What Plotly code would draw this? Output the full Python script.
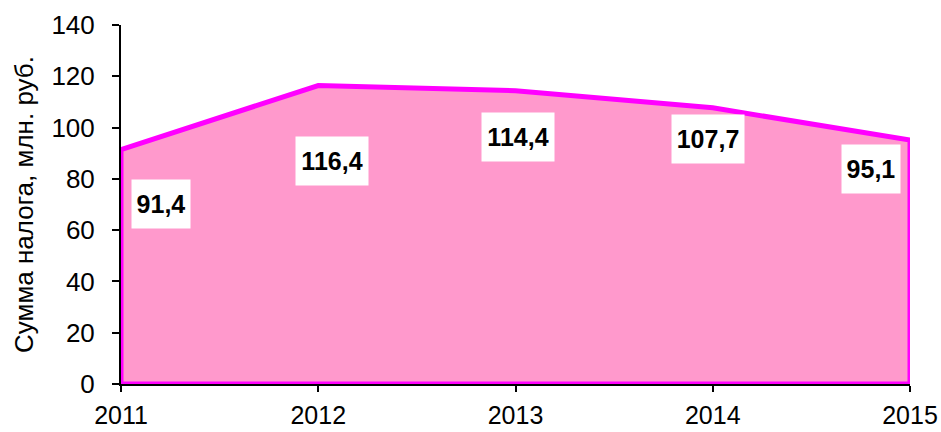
import plotly.graph_objects as go

# Tax amounts by year
years = [2011, 2012, 2013, 2014, 2015]
tax_amounts = [91.4, 116.4, 114.4, 107.7, 95.1]
y_ticks = [0, 20, 40, 60, 80, 100, 120, 140]

# pixel offsets of the value boxes from their points
label_dx = [40, 14, 2, -5, -39]
label_dy = [-54, -75, -46, -31, -29]

fill_color = "#FF99CC"
edge_color = "#FF00FF"
font_family = "Liberation Sans, Arial, sans-serif"

# closed polygon: down to zero at both ends
poly_x = [years[0]] + years + [years[-1], years[0]]
poly_y = [0] + tax_amounts + [0, 0]

fig = go.Figure()
fig.add_trace(go.Scatter(
    x=poly_x, y=poly_y, mode="lines", fill="toself",
    fillcolor=fill_color, line=dict(color=edge_color, width=5),
    cliponaxis=False, hoverinfo="skip", showlegend=False,
))

for x, v, dx, dy in zip(years, tax_amounts, label_dx, label_dy):
    txt = f"{v:.1f}".replace(".", ",")
    fig.add_annotation(
        x=x, y=v, xshift=dx, yshift=dy, showarrow=False,
        text=f"<b>{txt}</b>",
        font=dict(family=font_family, size=25, color="black"),
        bgcolor="white", borderpad=4,
        width=14 * len(txt) - 6, height=40,
    )

fig.update_layout(
    width=941, height=432,
    margin=dict(l=121, r=31, t=25, b=48),
    plot_bgcolor="white", paper_bgcolor="white",
    font=dict(family=font_family, size=26, color="black"),
)
fig.update_xaxes(
    range=[2011, 2015], tickvals=years, ticktext=[str(y) for y in years],
    showline=True, linecolor="black", linewidth=2, ticks="outside",
    ticklen=6, tickwidth=2, tickcolor="black", showgrid=False, zeroline=False,
    ticklabelstandoff=2, automargin=False, tickfont=dict(size=25),
)
fig.update_yaxes(
    range=[0, 140], tickvals=y_ticks,
    showline=True, linecolor="black", linewidth=2, ticks="outside",
    ticklen=7, tickwidth=2, tickcolor="black", showgrid=False, zeroline=False,
    ticklabelstandoff=12, automargin=False, tickfont=dict(size=26),
    title=dict(text="Сумма налога, млн. руб.", standoff=10,
               font=dict(size=26)),
)

fig.write_html("out.html")
